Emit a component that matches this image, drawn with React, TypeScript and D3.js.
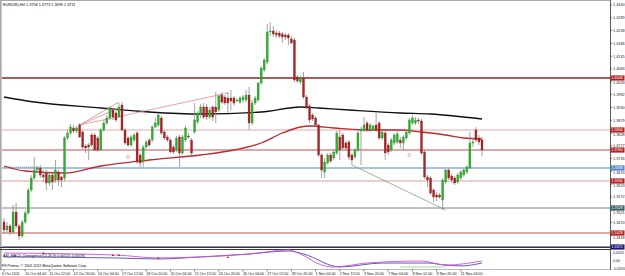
import React from 'react';
import * as d3 from 'd3';

const W = 625;
const H = 276;

const opens = [
  1.3472, 1.3440, 1.3456, 1.3432, 1.3512, 1.3456, 1.3416, 1.3472, 1.3508, 1.3600,
  1.3648, 1.3680, 1.3688, 1.3660, 1.3668, 1.3628, 1.3660, 1.3640, 1.3672, 1.3652,
  1.3648, 1.3808, 1.3828, 1.3848, 1.3836, 1.3860, 1.3832, 1.3776, 1.3780, 1.3820,
  1.3820, 1.3808, 1.3760, 1.3840, 1.3868, 1.3888, 1.3920, 1.3908, 1.3892, 1.3940,
  1.3840, 1.3808, 1.3780, 1.3800, 1.3828, 1.3740, 1.3712, 1.3772, 1.3800, 1.3800,
  1.3852, 1.3860, 1.3888, 1.3832, 1.3812, 1.3800, 1.3772, 1.3760, 1.3812, 1.3748,
  1.3800, 1.3816, 1.3800, 1.3832, 1.3872, 1.3908, 1.3932, 1.3932, 1.3892, 1.3932,
  1.3932, 1.3920, 1.3980, 1.3972, 1.3968, 1.3968, 1.3968, 1.3956, 1.3952, 1.3960,
  1.3960, 1.3980, 1.3868, 1.3948, 1.3960, 1.4028, 1.4080, 1.4112, 1.4232, 1.4236,
  1.4228, 1.4228, 1.4224, 1.4220, 1.4220, 1.4204, 1.4200, 1.4052, 1.4032, 1.4048,
  1.3972, 1.3936, 1.3900, 1.3888, 1.3860, 1.3740, 1.3672, 1.3708, 1.3740, 1.3728,
  1.3748, 1.3812, 1.3820, 1.3788, 1.3792, 1.3740, 1.3732, 1.3760, 1.3836, 1.3840,
  1.3868, 1.3840, 1.3840, 1.3860, 1.3868, 1.3808, 1.3828, 1.3780, 1.3760, 1.3788,
  1.3792, 1.3800, 1.3788, 1.3808, 1.3828, 1.3868, 1.3868, 1.3880, 1.3876, 1.3752,
  1.3652, 1.3648, 1.3600, 1.3580, 1.3580, 1.3560, 1.3632, 1.3680, 1.3656, 1.3648,
  1.3632, 1.3648, 1.3660, 1.3672, 1.3688, 1.3788, 1.3840, 1.3808, 1.3800,
];

const highs = [
  1.3488, 1.3472, 1.3464, 1.3540, 1.3548, 1.3464, 1.3480, 1.3520, 1.3608, 1.3660,
  1.3732, 1.3696, 1.3700, 1.3680, 1.3680, 1.3672, 1.3668, 1.3720, 1.3680, 1.3656,
  1.3816, 1.3840, 1.3864, 1.3860, 1.3856, 1.3868, 1.3840, 1.3784, 1.3788, 1.3828,
  1.3828, 1.3816, 1.3848, 1.3880, 1.3900, 1.3936, 1.3928, 1.3920, 1.3948, 1.3952,
  1.3848, 1.3816, 1.3820, 1.3828, 1.3836, 1.3748, 1.3780, 1.3800, 1.3808, 1.3860,
  1.3888, 1.3908, 1.3896, 1.3840, 1.3820, 1.3808, 1.3780, 1.3816, 1.3820, 1.3820,
  1.3856, 1.3828, 1.3808, 1.3948, 1.3916, 1.3944, 1.3948, 1.3944, 1.3932, 1.3940,
  1.3992, 1.3984, 1.3992, 1.3980, 1.3992, 1.4000, 1.3976, 1.3968, 1.3976, 1.3980,
  1.4000, 1.4012, 1.3960, 1.3976, 1.4032, 1.4096, 1.4128, 1.4264, 1.4272, 1.4256,
  1.4240, 1.4236, 1.4232, 1.4228, 1.4228, 1.4216, 1.4208, 1.4060, 1.4056, 1.4072,
  1.3980, 1.3944, 1.3908, 1.3896, 1.3864, 1.3748, 1.3728, 1.3748, 1.3748, 1.3760,
  1.3836, 1.3840, 1.3828, 1.3796, 1.3800, 1.3748, 1.3768, 1.3836, 1.3852, 1.3892,
  1.3876, 1.3868, 1.3864, 1.3908, 1.3876, 1.3840, 1.3836, 1.3788, 1.3808, 1.3828,
  1.3840, 1.3812, 1.3820, 1.3840, 1.3888, 1.3900, 1.3892, 1.3888, 1.3884, 1.3760,
  1.3660, 1.3656, 1.3608, 1.3592, 1.3588, 1.3648, 1.3684, 1.3688, 1.3664, 1.3656,
  1.3668, 1.3680, 1.3688, 1.3700, 1.3832, 1.3808, 1.3852, 1.3820, 1.3812,
];

const lows = [
  1.3424, 1.3428, 1.3420, 1.3424, 1.3444, 1.3400, 1.3408, 1.3464, 1.3500, 1.3592,
  1.3640, 1.3672, 1.3648, 1.3632, 1.3600, 1.3616, 1.3600, 1.3628, 1.3616, 1.3612,
  1.3636, 1.3800, 1.3820, 1.3828, 1.3828, 1.3808, 1.3764, 1.3748, 1.3720, 1.3772,
  1.3756, 1.3752, 1.3756, 1.3832, 1.3860, 1.3880, 1.3880, 1.3872, 1.3888, 1.3836,
  1.3780, 1.3772, 1.3772, 1.3792, 1.3704, 1.3692, 1.3692, 1.3764, 1.3772, 1.3792,
  1.3848, 1.3852, 1.3820, 1.3800, 1.3792, 1.3748, 1.3744, 1.3752, 1.3692, 1.3740,
  1.3792, 1.3804, 1.3740, 1.3824, 1.3864, 1.3888, 1.3884, 1.3880, 1.3884, 1.3876,
  1.3868, 1.3912, 1.3944, 1.3940, 1.3908, 1.3920, 1.3936, 1.3952, 1.3944, 1.3948,
  1.3952, 1.3840, 1.3860, 1.3940, 1.3952, 1.4020, 1.4072, 1.4104, 1.4216, 1.4212,
  1.4208, 1.4208, 1.4188, 1.4200, 1.4180, 1.4184, 1.4032, 1.4028, 1.4024, 1.3964,
  1.3924, 1.3868, 1.3876, 1.3852, 1.3732, 1.3648, 1.3648, 1.3700, 1.3708, 1.3720,
  1.3740, 1.3720, 1.3760, 1.3760, 1.3720, 1.3700, 1.3724, 1.3752, 1.3700, 1.3832,
  1.3832, 1.3832, 1.3836, 1.3832, 1.3800, 1.3800, 1.3720, 1.3740, 1.3752, 1.3780,
  1.3784, 1.3768, 1.3760, 1.3800, 1.3820, 1.3860, 1.3860, 1.3864, 1.3740, 1.3644,
  1.3612, 1.3580, 1.3552, 1.3556, 1.3564, 1.3520, 1.3624, 1.3640, 1.3628, 1.3620,
  1.3624, 1.3640, 1.3652, 1.3664, 1.3684, 1.3772, 1.3792, 1.3780, 1.3736,
];

const closes = [
  1.3440, 1.3456, 1.3432, 1.3512, 1.3456, 1.3416, 1.3472, 1.3508, 1.3600, 1.3648,
  1.3680, 1.3688, 1.3660, 1.3652, 1.3628, 1.3660, 1.3632, 1.3680, 1.3640, 1.3640,
  1.3808, 1.3828, 1.3852, 1.3836, 1.3848, 1.3812, 1.3772, 1.3768, 1.3772, 1.3780,
  1.3760, 1.3760, 1.3840, 1.3868, 1.3888, 1.3928, 1.3892, 1.3880, 1.3932, 1.3840,
  1.3788, 1.3780, 1.3812, 1.3820, 1.3712, 1.3708, 1.3772, 1.3792, 1.3780, 1.3852,
  1.3868, 1.3900, 1.3828, 1.3808, 1.3800, 1.3752, 1.3752, 1.3808, 1.3748, 1.3812,
  1.3848, 1.3812, 1.3748, 1.3880, 1.3908, 1.3932, 1.3892, 1.3892, 1.3920, 1.3892,
  1.3912, 1.3976, 1.3952, 1.3948, 1.3948, 1.3956, 1.3948, 1.3960, 1.3968, 1.3972,
  1.3980, 1.3868, 1.3948, 1.3968, 1.4028, 1.4088, 1.4120, 1.4232, 1.4236, 1.4224,
  1.4220, 1.4216, 1.4212, 1.4212, 1.4208, 1.4188, 1.4040, 1.4036, 1.4048, 1.3972,
  1.3932, 1.3880, 1.3884, 1.3860, 1.3740, 1.3680, 1.3712, 1.3740, 1.3716, 1.3752,
  1.3828, 1.3760, 1.3768, 1.3768, 1.3732, 1.3720, 1.3760, 1.3828, 1.3844, 1.3860,
  1.3840, 1.3860, 1.3856, 1.3840, 1.3808, 1.3832, 1.3748, 1.3752, 1.3800, 1.3820,
  1.3824, 1.3788, 1.3812, 1.3832, 1.3880, 1.3888, 1.3880, 1.3876, 1.3748, 1.3652,
  1.3640, 1.3588, 1.3572, 1.3572, 1.3572, 1.3640, 1.3680, 1.3648, 1.3640, 1.3628,
  1.3660, 1.3672, 1.3680, 1.3692, 1.3788, 1.3792, 1.3800, 1.3792, 1.3760,
];

const timeLabels = [
  '6 Oct 2011', '10 Oct 04:00', '11 Oct 12:00', '12 Oct 20:00', '14 Oct 04:00',
  '17 Oct 12:00', '18 Oct 20:00', '20 Oct 04:00', '21 Oct 12:00', '24 Oct 20:00',
  '26 Oct 04:00', '27 Oct 12:00', '28 Oct 20:00', '1 Nov 04:00', '2 Nov 12:00',
  '3 Nov 20:00', '7 Nov 04:00', '8 Nov 12:00', '9 Nov 20:00', '11 Nov 04:00',
];
const timeLabelBars = [0, 7, 15, 23, 31, 39, 47, 55, 63, 71, 79, 87, 95, 103, 111, 119, 127, 135, 143, 151];

const priceTicks = [
  1.4340, 1.4289, 1.4238, 1.4186, 1.4135, 1.4084, 1.4033, 1.3982, 1.3930, 1.3879,
  1.3828, 1.3777, 1.3726, 1.3674, 1.3623, 1.3572, 1.3521, 1.3470, 1.3418,
];

const levelPrices = [1.4048, 1.3840, 1.3760, 1.3688, 1.3636, 1.3528, 1.3428, 1.3372];
const levelColors = ['#8e2323', '#e2aaaa', '#c44c4c', '#a8c4dc', '#dc9e9e', '#7d8585', '#c95555', '#1c1c6e'];
const levelBoxColors = ['#b22222', '#b22222', '#b22222', '#4f86c6', '#b22222', '#2f5f5f', '#b22222', '#191970'];
const levelWidths = [1.4, 1, 1.2, 2.2, 1, 1, 1.2, 1];

const slowMaBars = [0, 10, 32, 48, 65, 85, 98, 104, 114, 131, 141, 158];
const slowMaValues = [1.3972, 1.3952, 1.3928, 1.3912, 1.3904, 1.3912, 1.3932, 1.3928, 1.3920, 1.3908, 1.3904, 1.3884];

const fastMaBars = [0, 7, 20, 32, 48, 65, 76, 85, 92, 98, 101, 109, 120, 131, 138, 146, 152, 158];
const fastMaValues = [1.3696, 1.3676, 1.3668, 1.3696, 1.3720, 1.3740, 1.3760, 1.3788, 1.3828, 1.3852, 1.3856, 1.3848, 1.3840, 1.3840, 1.3832, 1.3820, 1.3808, 1.3804];

const pinkTrendFrom = [[25, 1.3860], [25, 1.3860], [25, 1.3860]];
const pinkTrendTo = [[38, 1.3952], [38, 1.3928], [74, 1.3988]];
const greenTrendFrom = [115, 1.3700];
const greenTrendTo = [146, 1.3520];
const dottedFrom = [0, 1.3692];
const dottedTo = [11, 1.3692];

const circleBars = [41, 134];
const circlePrices = [1.3732, 1.3740];

const macdBars = [0, 37, 51, 65, 81, 94, 99, 111, 125, 140, 146, 151, 158];
const macdValues = [0.0028, 0.0021, 0.0014, 0.0028, 0.0048, 0.0069, 0.0048, -0.0041, -0.0014, -0.0014, -0.0028, -0.0034, -0.0014];
const signalBars = [0, 37, 51, 65, 81, 94, 98, 105, 109, 120, 138, 146, 158];
const signalValues = [0.0055, 0.0041, 0.0021, 0.0028, 0.0048, 0.0076, 0.0048, -0.0028, -0.0041, -0.0014, 0, -0.0028, 0];
const markerBars = [13, 36, 38, 51, 74];
const markerValues = [0.0055, 0.0041, 0.0041, 0.0021, 0.0028];
const greenSegBars = [131, 146];
const greenSegValues = [-0.0041, -0.0041];
const indicatorTicks = [0.0055, 0, -0.0055];
const indicatorTickLabels = ['0.0055', '0.00', '-0.0055'];

const FONT = 'Liberation Sans, Arial, sans-serif';

export default function App() {
  const right = 610;
  const mainTop = 1;
  const mainBottom = 247;
  const x = d3.scaleLinear().domain([0, 158]).range([4, 482]);
  const y = d3.scaleLinear().domain([1.3368, 1.4352]).range([248, 2]);
  const yi = d3.scaleLinear().domain([-0.0055, 0.0055]).range([269, 253]);

  const mkLine = (bars: number[], vals: number[], ys: d3.ScaleLinear<number, number>) =>
    d3
      .line<number>()
      .x((b) => x(b))
      .y((_, i) => ys(vals[i]))
      .curve(d3.curveMonotoneX)(bars) || '';

  const bodyW = 2;

  // vertical nudge for tick labels that sit right under a level box
  const tickOffset = (p: number) => {
    const ty = y(p);
    for (const lp of levelPrices) {
      const ly = y(lp);
      const d = ty - ly;
      if (Math.abs(d) < 4.3) return d >= 0 ? 4.3 - d : -(4.3 + d);
    }
    return 0;
  };

  return (
    <svg
      width={W}
      height={H}
      style={{ position: 'absolute', left: 0, top: 0, background: '#fff', display: 'block' }}
      fontFamily={FONT}
    >
      <defs>
        <clipPath id="mainClip">
          <rect x={2} y={mainTop} width={right - 2} height={mainBottom - mainTop} />
        </clipPath>
        <clipPath id="indClip">
          <rect x={2} y={249} width={right - 2} height={20} />
        </clipPath>
      </defs>
      <rect x={0} y={0} width={W} height={H} fill="#fff" />
      {/* frame */}
      <rect x={0} y={0} width={1.6} height={270} fill="#a8a8a8" />
      <line x1={0} x2={right} y1={0.5} y2={0.5} stroke="#a8a8a8" />
      <line x1={right + 0.5} x2={right + 0.5} y1={0} y2={270} stroke="#333" strokeWidth={0.8} />

      <g clipPath="url(#mainClip)">
        {levelPrices.map((p, i) => (
          <line
            key={'lv' + i}
            x1={2}
            x2={right}
            y1={y(p)}
            y2={y(p)}
            stroke={levelColors[i]}
            strokeWidth={levelWidths[i]}
          />
        ))}
        <line
          x1={x(dottedFrom[0])}
          y1={y(dottedFrom[1])}
          x2={x(dottedTo[0])}
          y2={y(dottedTo[1])}
          stroke="#888"
          strokeWidth={0.8}
          strokeDasharray="1,1"
        />
        <path d={mkLine(slowMaBars, slowMaValues, y)} fill="none" stroke="#111" strokeWidth={1.3} />
        <path d={mkLine(fastMaBars, fastMaValues, y)} fill="none" stroke="#c0282d" strokeWidth={1.3} />
        {pinkTrendFrom.map((f, i) => (
          <line
            key={'pt' + i}
            x1={x(f[0])}
            y1={y(f[1])}
            x2={x(pinkTrendTo[i][0])}
            y2={y(pinkTrendTo[i][1])}
            stroke="#d98c8c"
            strokeWidth={0.8}
          />
        ))}
        <line
          x1={x(greenTrendFrom[0])}
          y1={y(greenTrendFrom[1])}
          x2={x(greenTrendTo[0])}
          y2={y(greenTrendTo[1])}
          stroke="#7aa87a"
          strokeWidth={0.8}
        />
        {opens.map((o, i) => {
          const c = closes[i];
          const up = c >= o;
          const cx = x(i);
          const top = y(Math.max(o, c));
          const bot = y(Math.min(o, c));
          return (
            <g key={'c' + i}>
              <line x1={cx} x2={cx} y1={y(highs[i])} y2={y(lows[i])} stroke="#8a8a8a" strokeWidth={0.8} />
              <rect
                x={cx - bodyW / 2}
                y={top}
                width={bodyW}
                height={Math.max(0.8, bot - top)}
                fill={up ? '#2eae2e' : '#a82424'}
                stroke={up ? '#2a8f2a' : '#8e1c1c'}
                strokeWidth={0.3}
              />
            </g>
          );
        })}
        {circleBars.map((b, i) => (
          <circle key={'ci' + i} cx={x(b)} cy={y(circlePrices[i])} r={1.5} fill="none" stroke="#e08080" strokeWidth={0.6} />
        ))}
      </g>

      <text x={3} y={6} fontSize={3.8} fill="#000">
        EURUSD,H4  1.3758 1.3773 1.3699 1.3711
      </text>

      {priceTicks.map((p, i) => (
        <g key={'tk' + i}>
          <line x1={right} x2={right + 2} y1={y(p)} y2={y(p)} stroke="#333" strokeWidth={0.6} />
          <text x={right + 3} y={y(p) + 1.3 + tickOffset(p)} fontSize={3.8} fill="#222">
            {p.toFixed(4)}
          </text>
        </g>
      ))}
      {levelPrices.map((p, i) => (
        <g key={'lb' + i}>
          <rect x={right + 0.5} y={y(p) - 2.6} width={14} height={5.2} fill={levelBoxColors[i]} />
          <text x={right + 1.5} y={y(p) + 1.3} fontSize={3.7} fill="#fff">
            {p.toFixed(4)}
          </text>
        </g>
      ))}

      <line x1={0} x2={right} y1={247.5} y2={247.5} stroke="#222" strokeWidth={0.9} />
      <line x1={0} x2={right} y1={249.5} y2={249.5} stroke="#222" strokeWidth={0.9} />
      <line x1={0} x2={right} y1={269.5} y2={269.5} stroke="#888" strokeWidth={0.6} />

      <g clipPath="url(#indClip)">
        <path d={mkLine(greenSegBars, greenSegValues, yi)} fill="none" stroke="#8fd08f" strokeWidth={0.8} />
        <path d={mkLine(macdBars, macdValues, yi)} fill="none" stroke="#4a4ab8" strokeWidth={0.9} />
        <path d={mkLine(signalBars, signalValues, yi)} fill="none" stroke="#d050d0" strokeWidth={0.9} />
        {markerBars.map((b, i) => {
          const cx = x(b);
          const cy = yi(markerValues[i]);
          return <path key={'mk' + i} d={`M${cx - 1.2},${cy + 1}L${cx + 1.2},${cy + 1}L${cx},${cy - 1.2}Z`} fill="#c81e1e" />;
        })}
        <text x={x(146)} y={yi(-0.0028) + 1.3} fontSize={4} fill="#0a5a0a" textAnchor="middle">
          +
        </text>
      </g>
      <text x={3} y={256.5} fontSize={3.6} fill="#000">
        ASI_MACD_Divergence(12,26,9) 0.00113 -0.00190
      </text>
      <text x={2} y={266.5} fontSize={3.6} fill="#000">
        FX Primus, © 2001-2011 MetaQuotes Software Corp.
      </text>
      {indicatorTicks.map((v, i) => (
        <text key={'it' + i} x={right + 3} y={yi(v) + 1.3} fontSize={3.6} fill="#222">
          {indicatorTickLabels[i]}
        </text>
      ))}

      {timeLabels.map((t, i) => (
        <g key={'tl' + i}>
          <line x1={x(timeLabelBars[i])} x2={x(timeLabelBars[i])} y1={269.5} y2={271.5} stroke="#333" strokeWidth={0.6} />
          <text x={i === 0 ? 2 : x(timeLabelBars[i])} y={275} fontSize={3.7} fill="#111">
            {t}
          </text>
        </g>
      ))}
    </svg>
  );
}
